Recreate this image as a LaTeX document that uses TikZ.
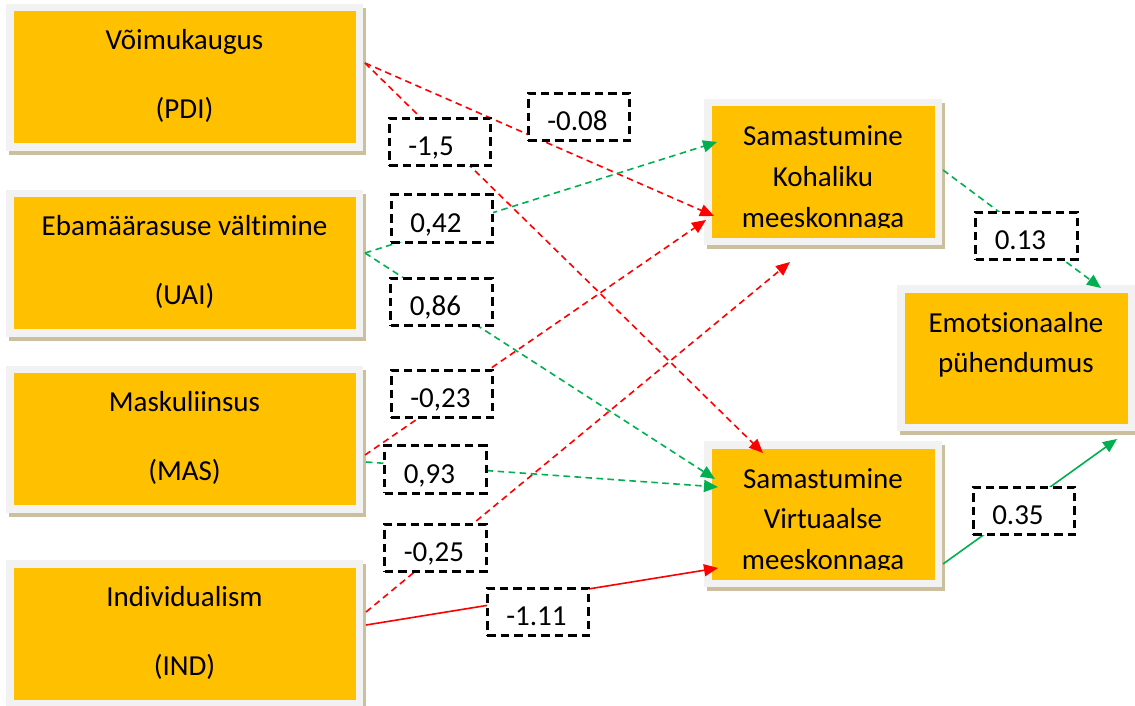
\documentclass[tikz,border=0pt]{standalone}
\usepackage{fontspec}
\setmainfont{Carlito}[Ligatures={NoCommon}]
\usetikzlibrary{arrows.meta,calc}
\definecolor{boxorange}{HTML}{FFC000}
\definecolor{framegray}{HTML}{F2F2F2}
\definecolor{shadowtan}{HTML}{CBBF9E}
\definecolor{linered}{HTML}{FF0000}
\definecolor{linegreen}{HTML}{00B050}
\pgfdeclarelayer{background}
\pgfsetlayers{background,main}
\begin{document}
\begin{tikzpicture}[x=1pt,y=-1pt,
  bigfont/.style={font=\fontsize{29}{35}\selectfont},
  leftbox/.style={fill=boxorange, draw=framegray, line width=7.5pt, minimum width=349.5pt, minimum height=139.5pt, inner sep=0pt},
  rightbox/.style={leftbox, minimum width=230.5pt, minimum height=138.5pt},
  boxtext/.style={bigfont, anchor=base, inner sep=0pt},
  coef/.style={draw=black, fill=white, line width=2.6pt, dash pattern=on 8.5pt off 5pt, minimum width=101.5pt, minimum height=47.5pt, inner xsep=19pt, inner ysep=0pt, text width=63.5pt, align=left, bigfont, text height=27pt, text depth=0pt},
  tip/.style={-{Triangle[length=14pt,width=12pt]}},
  redd/.style={tip, draw=linered, line width=1.6pt, dash pattern=on 6.5pt off 4.5pt},
  reds/.style={tip, draw=linered, line width=1.6pt},
  greend/.style={tip, draw=linegreen, line width=1.6pt, dash pattern=on 6.5pt off 4.5pt},
  greens/.style={tip, draw=linegreen, line width=1.6pt}
]
\useasboundingbox (0,0) rectangle (1135,706);

% main boxes
\node[leftbox] (pdi) at (184.5,77.5) {};
\node[leftbox] (uai) at (184.5,263) {};
\node[leftbox] (mas) at (184.5,439) {};
\node[leftbox] (ind) at (184.5,633.5) {};
\node[rightbox] (kohal) at (823,172) {};
\node[rightbox] (virt) at (823,514) {};
\node[rightbox] (emo) at (1016,358) {};

\begin{pgfonlayer}{background}
\foreach \n in {pdi,uai,mas,ind,kohal,virt,emo}
  \fill[shadowtan] ([shift={(3,4)}]\n.south west) rectangle ([shift={(3,4)}]\n.north east);
\end{pgfonlayer}

% box texts
\node[boxtext] (pdit1) at ($(pdi.north)+(0,46)$) {Võimukaugus};
\node[boxtext] (pdit2) at ($(pdi.north)+(0,115)$) {(PDI)};
\node[boxtext] (uait1) at ($(uai.north)+(0,46)$) {Ebamäärasuse vältimine};
\node[boxtext] (uait2) at ($(uai.north)+(0,115)$) {(UAI)};
\node[boxtext] (mast1) at ($(mas.north)+(0,46)$) {Maskuliinsus};
\node[boxtext] (mast2) at ($(mas.north)+(0,115)$) {(MAS)};
\node[boxtext] (indt1) at ($(ind.north)+(0,46)$) {Individualism};
\node[boxtext] (indt2) at ($(ind.north)+(0,115)$) {(IND)};
\begin{scope}
  \clip (kohal.north west) rectangle ([shift={(0,128.5)}]kohal.north east);
  \node[boxtext] (kt1) at ($(kohal.north)+(0,47)$) {Samastumine};
  \node[boxtext] (kt2) at ($(kohal.north)+(0,87.5)$) {Kohaliku};
  \node[boxtext] (kt3) at ($(kohal.north)+(0,128)$) {meeskonnaga};
\end{scope}
\begin{scope}
  \clip (virt.north west) rectangle ([shift={(0,128.5)}]virt.north east);
  \node[boxtext] (vt1) at ($(virt.north)+(0,47)$) {Samastumine};
  \node[boxtext] (vt2) at ($(virt.north)+(0,87.5)$) {Virtuaalse};
  \node[boxtext] (vt3) at ($(virt.north)+(0,128)$) {meeskonnaga};
\end{scope}
\node[boxtext] (et1) at ($(emo.north)+(0,47)$) {Emotsionaalne};
\node[boxtext] (et2) at ($(emo.north)+(0,87)$) {pühendumus};

% connectors
\coordinate (free) at (790,262);
\draw[redd] ([shift={(2,-14.5)}]pdi.east) -- ([shift={(10,44)}]kohal.west);
\draw[redd] ([shift={(2,-14.5)}]pdi.east) -- ([shift={(-60,12)}]virt.north);
\draw[greend] ([shift={(2,-10)}]uai.east) -- ([shift={(13,-30)}]kohal.west);
\draw[greend] ([shift={(2,-10)}]uai.east) -- ([shift={(11,-35)}]virt.west);
\draw[redd] ([shift={(2,16)}]mas.east) -- ([shift={(2,48)}]kohal.west);
\draw[greend] ([shift={(3,23)}]mas.east) -- ([shift={(14,-27)}]virt.west);
\draw[redd] ([shift={(3,-21.5)}]ind.east) -- (free);
\draw[reds] ([shift={(3,-8.5)}]ind.east) -- ([shift={(14,54)}]virt.west);
\draw[greend] ([shift={(1,-2)}]kohal.east) -- ([shift={(85,3)}]emo.north);
\draw[greens] ([shift={(1,50)}]virt.east) -- ([shift={(101,8)}]emo.south);

% coefficient labels
\node[coef] (c1) at (579,117) {-0.08};
\node[coef] (c2) at (440,142) {-1,5};
\node[coef] (c3) at (442,218.5) {0,42};
\node[coef] (c4) at (441.5,302) {0,86};
\node[coef] (c5) at (442,394) {-0,23};
\node[coef] (c6) at (435.5,469.5) {0,93};
\node[coef] (c7) at (435.5,548) {-0,25};
\node[coef] (c8) at (538,612) {-1.11};
\node[coef] (c9) at (1026.5,236) {0.13};
\node[coef] (c10) at (1024,511) {0.35};
\end{tikzpicture}
\end{document}
